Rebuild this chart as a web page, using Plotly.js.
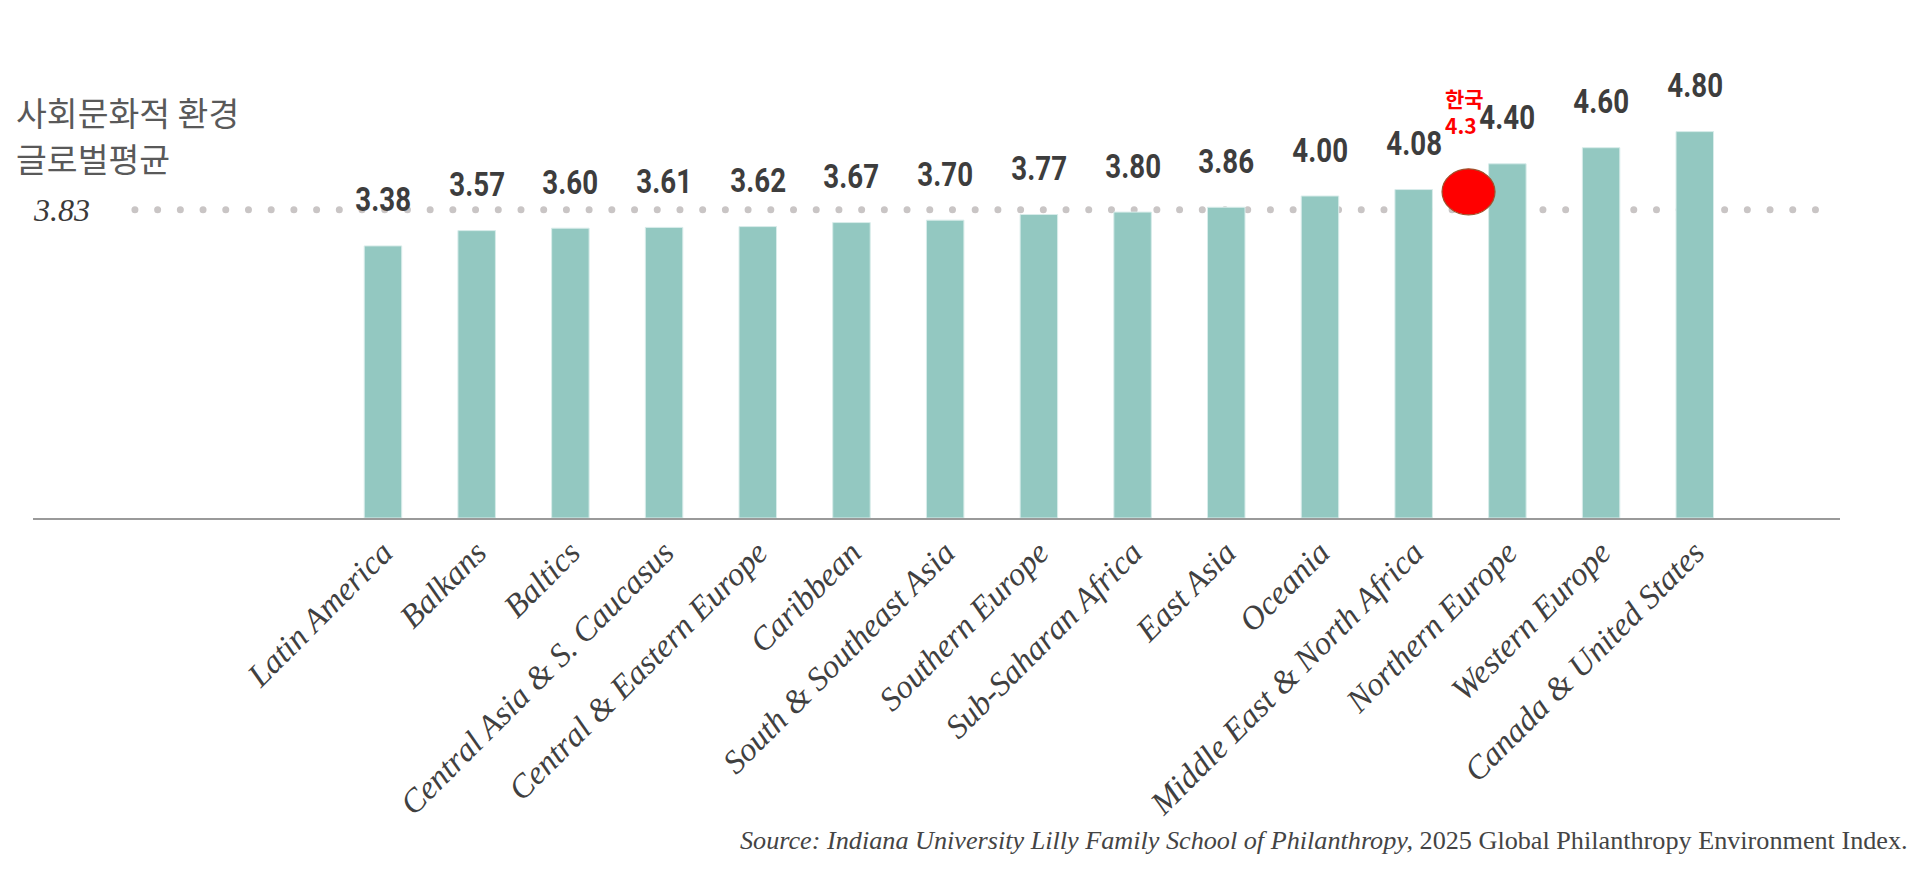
<!DOCTYPE html>
<html>
<head>
<meta charset="utf-8">
<script src="https://cdn.plot.ly/plotly-3.0.1.min.js"></script>
<style>
html,body{margin:0;padding:0;background:#fff;}
#chart{width:1920px;height:878px;}
</style>
</head>
<body>
<div id="chart"></div>
<script>
// ---- data ----
const regions = [
  "Latin America", "Balkans", "Baltics", "Central Asia & S. Caucasus",
  "Central & Eastern Europe", "Caribbean", "South & Southeast Asia",
  "Southern Europe", "Sub-Saharan Africa", "East Asia", "Oceania",
  "Middle East & North Africa", "Northern Europe", "Western Europe",
  "Canada & United States"
];
const scores = [3.38, 3.57, 3.60, 3.61, 3.62, 3.67, 3.70, 3.77, 3.80, 3.86, 4.00, 4.08, 4.40, 4.60, 4.80];
const globalAverage = 3.83;
const averageTitleLines = ["사회문화적 환경", "글로벌평균"];
const koreaLabel = "한국";
const koreaScore = 4.3;
const sourceText = "<i>Source: Indiana University Lilly Family School of Philanthropy,</i> 2025 Global Philanthropy Environment Index.";

// ---- layout helpers ----
const koreaSlot = 11.5; // between Middle East & North Africa and Northern Europe

const barTrace = {
  type: "bar",
  x: regions,
  y: scores,
  width: 0.4,
  marker: {color: "#93c8c1", line: {color: "#d8ecea", width: 1}},
  hoverinfo: "skip"
};

const valueLabels = regions.map((r, i) => ({
  x: r, y: scores[i], xref: "x", yref: "y",
  text: scores[i].toFixed(2),
  showarrow: false, yanchor: "middle", yshift: 46,
  font: {family: "Roboto", size: 33, weight: "bold", color: "#3d3d3d"}
}));

const titleAnnotations = averageTitleLines.map((t, i) => ({
  xref: "paper", yref: "paper", x: -0.0105, y: [0.841, 0.746][i],
  xanchor: "left", yanchor: "middle", align: "left",
  text: t, showarrow: false,
  font: {family: "Noto Sans CJK KR", size: 33.5, color: "#595959"}
}));

const annotations = valueLabels.concat(titleAnnotations, [
  {
    xref: "paper", yref: "y", x: -0.001, y: globalAverage,
    xanchor: "left", yanchor: "middle",
    text: globalAverage.toFixed(2), showarrow: false,
    font: {family: "Liberation Serif", size: 32, style: "italic", color: "#3a3a3a"}
  },
  {
    xref: "x", yref: "y", x: koreaSlot, y: koreaScore,
    xshift: -18, yshift: 60, xanchor: "left", yanchor: "middle", align: "left",
    text: koreaLabel + "<br>" + koreaScore.toFixed(1), showarrow: false,
    font: {family: "Noto Sans CJK KR", size: 21, weight: "bold", color: "#ff0000"}
  },
  {
    xref: "paper", yref: "paper", x: 1.0387, y: -0.667,
    xanchor: "right", yanchor: "middle",
    text: sourceText, showarrow: false,
    font: {family: "Liberation Serif", size: 26.2, color: "#444444"}
  }
]);

const layout = {
  width: 1920, height: 878,
  margin: {l: 33, r: 80, t: 35, b: 360},
  paper_bgcolor: "#ffffff", plot_bgcolor: "#ffffff",
  showlegend: false,
  bargap: 0.6,
  xaxis: {
    type: "category",
    range: [-3.735, 15.55],
    showline: true, linecolor: "#9a9a9a", linewidth: 2,
    showgrid: false, zeroline: false,
    ticks: "", tickangle: -45,
    ticklabelstandoff: 0,
    tickfont: {family: "Liberation Serif", size: 33, style: "italic", color: "#404040"},
    fixedrange: true
  },
  yaxis: {
    range: [0, 6], visible: false, showgrid: false, zeroline: false, fixedrange: true
  },
  shapes: [
    {
      type: "line", layer: "below",
      xref: "paper", yref: "y",
      x0: 0.0564, x1: 0.9983, y0: globalAverage, y1: globalAverage,
      line: {color: "#c9c5c5", width: 7, dash: "1px,21.7px"}
    },
    {
      type: "circle", layer: "above",
      xref: "x", yref: "y",
      xsizemode: "pixel", ysizemode: "pixel",
      xanchor: koreaSlot, yanchor: koreaScore,
      x0: -18.5, x1: 34.5, y0: -43, y1: 3,
      fillcolor: "#ff0000",
      line: {color: "#a0522d", width: 1.2}
    }
  ],
  annotations: annotations
};

Plotly.newPlot("chart", [barTrace], layout, {displayModeBar: false, staticPlot: true}).then(function (gd) {
  // round dots for the average line
  gd.querySelectorAll(".shapelayer path").forEach(function (p) {
    const dash = p.style.strokeDasharray || "";
    if (dash.indexOf("21.7") >= 0) {
      p.style.strokeDasharray = "0.01px, 22.7px";
      p.style.strokeLinecap = "round";
    }
  });
  // condensed look for the value labels
  for (let i = 0; i < regions.length; i++) {
    const t = gd.querySelector('.annotation[data-index="' + i + '"] text');
    if (t) {
      t.style.transformBox = "fill-box";
      t.style.transformOrigin = "center";
      t.style.transform = "scaleX(0.84)";
    }
  }
});
</script>
</body>
</html>
